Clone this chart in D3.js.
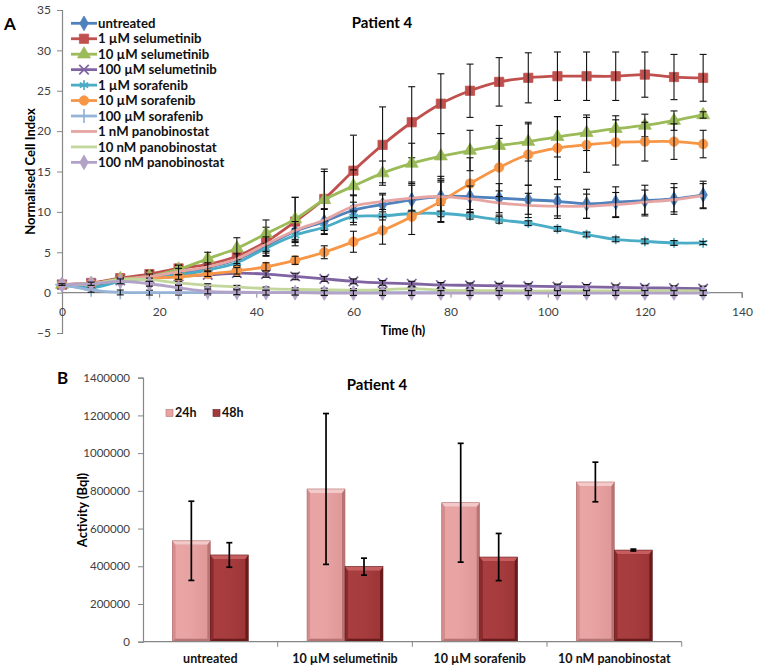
<!DOCTYPE html>
<html><head><meta charset="utf-8">
<script src="https://cdn.jsdelivr.net/npm/d3@7"></script>
<style>body{margin:0;background:#fff}svg{display:block;font-family:Lato,"Open Sans",sans-serif}</style>
</head><body><svg id="c" width="758" height="672"></svg>
<script>
// ---------- Panel A data ----------
const hours = [0,6,12,18,24,30,36,42,48,54,60,66,72,78,84,90,96,102,108,114,120,126,132];
const seriesNames = ["untreated","1 µM selumetinib","10 µM selumetinib","100 µM selumetinib","1 µM sorafenib","10 µM sorafenib","100 µM sorafenib","1 nM panobinostat","10 nM panobinostat","100 nM panobinostat"];
const untreated     = [1.0,0.8,1.5,1.9,2.4,3.1,4.1,5.8,7.6,8.8,10.2,10.9,11.5,11.9,11.9,11.7,11.5,11.3,11.0,11.2,11.4,11.6,12.1];
const selu1         = [1.0,1.2,1.8,2.3,3.0,3.5,4.5,6.3,8.8,11.6,15.1,18.3,21.1,23.4,25.0,26.1,26.6,26.8,26.8,26.8,27.0,26.7,26.6];
const selu10        = [1.0,1.1,1.7,2.0,2.9,4.2,5.5,7.3,9.1,11.5,13.2,14.8,16.0,16.9,17.6,18.2,18.7,19.3,19.8,20.3,20.7,21.3,22.0];
const selu100       = [1.0,1.1,1.5,1.8,2.0,2.2,2.4,2.3,2.0,1.7,1.4,1.2,1.1,0.95,0.9,0.85,0.8,0.75,0.7,0.65,0.6,0.55,0.5];
const sora1         = [1.0,0.6,1.4,1.8,2.2,2.8,3.7,5.5,7.1,8.1,9.4,9.5,9.8,9.8,9.5,9.0,8.6,7.9,7.2,6.6,6.35,6.15,6.15];
const sora10        = [1.0,1.1,1.6,1.8,1.95,2.3,2.7,3.2,4.0,5.0,6.3,7.7,9.4,11.3,13.5,15.5,17.1,17.9,18.3,18.6,18.7,18.7,18.4];
const sora100       = [1.0,0.35,0.02,0.0,0.0,0.0,0.0,0.0,0.0,0.0,0.0,0.0,0.0,0.0,0.0,0.0,0.0,0.0,0.0,0.0,0.0,0.0,0.0];
const pano1         = [1.0,1.1,1.6,2.0,2.6,3.2,4.2,6.0,7.7,9.0,10.7,11.3,11.7,11.9,11.6,11.1,10.8,10.7,10.7,10.9,11.2,11.5,12.0];
const pano10        = [1.0,1.1,1.6,1.6,1.2,0.9,0.7,0.5,0.4,0.35,0.3,0.35,0.5,0.3,0.25,0.25,0.2,0.2,0.2,0.2,0.2,0.2,0.2];
const pano100       = [1.0,1.1,1.4,1.1,0.6,0.15,0.05,0.0,0.0,-0.05,-0.05,-0.05,-0.05,-0.05,-0.05,-0.05,-0.05,-0.05,-0.05,-0.05,-0.05,-0.05,-0.05];

const untreatedErr  = [0.1,0.3,0.3,0.4,0.5,0.6,0.8,1.2,1.4,1.6,1.8,1.2,2.2,2.5,2.0,1.8,1.8,1.8,1.8,1.9,1.9,1.9,1.7];
const selu1Err      = [0.1,0.2,0.3,0.4,0.4,0.6,1.2,1.8,3.0,3.7,4.4,4.7,4.4,3.7,3.3,3.0,3.1,3.0,3.0,3.0,2.8,2.8,2.9];
const selu10Err     = [0.1,0.2,0.3,0.3,0.5,0.8,1.3,1.7,2.7,3.5,2.0,1.5,2.5,2.8,2.5,2.5,2.4,2.5,2.2,1.6,1.4,1.2,0.4];
const selu100Err    = [0.1,0.2,0.3,0.3,0.3,0.3,0.4,0.4,0.4,0.3,0.3,0.3,0.3,0.3,0.3,0.3,0.3,0.3,0.3,0.3,0.3,0.3,0.3];
const sora1Err      = [0.1,0.2,0.2,0.3,0.3,0.3,0.4,0.6,0.8,0.8,0.7,0.5,0.4,1.0,0.4,0.4,0.3,0.3,0.3,0.3,0.3,0.3,0.2];
const sora10Err     = [0.1,0.2,0.2,0.3,0.3,0.3,0.4,0.5,0.5,0.8,1.3,1.7,2.2,2.6,3.2,3.6,3.8,3.9,3.4,2.8,2.4,2.2,1.7];
const sora100Err    = [0.1,0.3,0.3,0.3,0.3,0.3,0.3,0.3,0.3,0.3,0.3,0.3,0.3,0.3,0.3,0.3,0.3,0.3,0.3,0.3,0.3,0.3,0.3];
const pano1Err      = [0.1,0.2,0.3,0.3,0.4,0.5,0.6,0.9,1.1,1.3,1.4,1.0,1.6,1.8,1.6,1.5,1.5,1.5,1.5,1.5,1.5,1.5,1.5];
const pano10Err     = [0.1,0.2,0.2,0.2,0.2,0.2,0.2,0.2,0.2,0.2,0.2,0.2,0.2,0.2,0.2,0.2,0.2,0.2,0.2,0.2,0.2,0.2,0.2];
const pano100Err    = [0.1,0.2,0.3,0.3,0.3,0.3,0.3,0.3,0.3,0.3,0.3,0.3,0.3,0.3,0.3,0.3,0.3,0.3,0.3,0.3,0.3,0.3,0.3];
const xTicksA = [0,20,40,60,80,100,120,140];
const yTicksA = [-5,0,5,10,15,20,25,30,35];

// ---------- Panel B data ----------
const barCategories = ["untreated","10 µM selumetinib","10 µM sorafenib","10 nM panobinostat"];
const barSeries = ["24h","48h"];
const activity24h = [535000,810000,737000,847000];
const activity48h = [460000,398000,449000,486000];
const err24h = [210000,400000,315000,105000];
const err48h = [65000,45000,125000,5000];
const yTicksB = [0,200000,400000,600000,800000,1000000,1200000,1400000];

// ---------- styles ----------
const styles = [
 {c:"#4F81BD", m:"diamond"},
 {c:"#C0504D", m:"square"},
 {c:"#9BBB59", m:"triangle"},
 {c:"#8064A2", m:"x"},
 {c:"#4BACC6", m:"star"},
 {c:"#F79646", m:"circle"},
 {c:"#95B3D7", m:"plus"},
 {c:"#E6A5A3", m:null},
 {c:"#C3D69B", m:null},
 {c:"#B3A2C7", m:"diamond"}
];
const values = [untreated,selu1,selu10,selu100,sora1,sora10,sora100,pano1,pano10,pano100];
const errs = [untreatedErr,selu1Err,selu10Err,selu100Err,sora1Err,sora10Err,sora100Err,pano1Err,pano10Err,pano100Err];

const svg = d3.select("#c");
const axisGray = "#868686", tickText = "#404040";

// ================= Panel A =================
const xA = d3.scaleLinear().domain([0,140]).range([62,742]);
const yA = d3.scaleLinear().domain([-5,35]).range([333,10]);

const gyA = svg.append("g").attr("transform","translate(62,0)")
  .call(d3.axisLeft(yA).tickValues(yTicksA).tickSize(5).tickPadding(6).tickFormat(d3.format("d")));
const gxA = svg.append("g").attr("transform",`translate(0,${yA(0)})`)
  .call(d3.axisBottom(xA).tickValues(xTicksA).tickSize(5).tickPadding(10).tickFormat(d3.format("d")));
[gyA,gxA].forEach(g=>{
  g.select(".domain").attr("stroke",axisGray).attr("stroke-width",1.2);
  g.selectAll(".tick line").attr("stroke",axisGray);
  g.selectAll(".tick text").attr("fill",tickText).style("font-size","12px").style("font-family","Lato");
});
gxA.select(".domain").attr("d",`M${xA(0)},0H${xA(140)}V5`);

function markerPath(type){
  const map = {diamond:[d3.symbolDiamond,62], square:[d3.symbolSquare,85], triangle:[d3.symbolTriangle,72],
    x:[d3.symbolTimes,60], star:[d3.symbolAsterisk,66], circle:[d3.symbolCircle,70], plus:[d3.symbolPlus,64]};
  const [s,sz] = map[type];
  return d3.symbol(s,sz)();
}
const strokeMarkers = new Set(["x","star","plus"]);

const line = d3.line().curve(d3.curveCatmullRom.alpha(0.5)).x((d,i)=>xA(hours[i])).y(d=>yA(d));

values.forEach((vals,si)=>{
  const st = styles[si];
  const g = svg.append("g");
  g.append("path").attr("d",line(vals)).attr("fill","none").attr("stroke",st.c).attr("stroke-width",2.8);
  if(st.m){
    g.selectAll("path.mk").data(vals).join("path").attr("class","mk")
      .attr("d",markerPath(st.m))
      .attr("transform",(d,i)=>`translate(${xA(hours[i])},${yA(d)})`)
      .attr("fill",strokeMarkers.has(st.m)?"none":st.c)
      .attr("stroke",st.c).attr("stroke-width",strokeMarkers.has(st.m)?1.7:0.8);
  }
  const e = errs[si];
  const eb = g.selectAll("g.eb").data(vals).join("g").attr("class","eb");
  eb.append("line").attr("x1",(d,i)=>xA(hours[i])).attr("x2",(d,i)=>xA(hours[i]))
    .attr("y1",(d,i)=>yA(d+e[i])).attr("y2",(d,i)=>yA(d-e[i]));
  eb.append("line").attr("x1",(d,i)=>xA(hours[i])-3.5).attr("x2",(d,i)=>xA(hours[i])+3.5)
    .attr("y1",(d,i)=>yA(d+e[i])).attr("y2",(d,i)=>yA(d+e[i]));
  eb.append("line").attr("x1",(d,i)=>xA(hours[i])-3.5).attr("x2",(d,i)=>xA(hours[i])+3.5)
    .attr("y1",(d,i)=>yA(d-e[i])).attr("y2",(d,i)=>yA(d-e[i]));
  eb.selectAll("line").attr("stroke","#111").attr("stroke-width",1.1);
});

// legend A
const legA = svg.append("g");
seriesNames.forEach((n,i)=>{
  const y = 23.3 + i*15.45, st = styles[i];
  legA.append("line").attr("x1",71).attr("x2",97).attr("y1",y).attr("y2",y).attr("stroke",st.c).attr("stroke-width",2.8);
  if(st.m) legA.append("path").attr("d",markerPath(st.m)).attr("transform",`translate(84,${y})`)
    .attr("fill",strokeMarkers.has(st.m)?"none":st.c).attr("stroke",st.c).attr("stroke-width",strokeMarkers.has(st.m)?1.7:0.8);
  legA.append("text").attr("x",98).attr("y",y+4.6).text(n).attr("font-weight","bold").attr("font-size","13.2px").attr("fill","#111");
});

svg.append("text").attr("x",382).attr("y",28).attr("text-anchor","middle").attr("font-weight","bold").attr("font-size","15px").text("Patient 4");
svg.append("text").attr("x",403).attr("y",335).attr("text-anchor","middle").attr("font-weight","bold").attr("font-size","12.5px").text("Time (h)");
svg.append("text").attr("transform","translate(35,171.5) rotate(-90)").attr("text-anchor","middle").attr("font-weight","bold").attr("font-size","13px").text("Normalised Cell Index");
svg.append("text").attr("x",4).attr("y",30).attr("font-weight","bold").attr("font-size","17px").text("A");

// ================= Panel B =================
const yB = d3.scaleLinear().domain([0,1400000]).range([641.7,377.7]);
const xB = d3.scaleBand().domain(barCategories).range([143,681.7]).paddingInner(0.436).paddingOuter(0.218);
const xInner = d3.scaleBand().domain(barSeries).range([0,xB.bandwidth()]);

const defs = svg.append("defs");
function grad(id, stops){
  const g = defs.append("linearGradient").attr("id",id).attr("x1","0").attr("x2","1").attr("y1","0").attr("y2","0");
  stops.forEach(([o,c])=>g.append("stop").attr("offset",o).attr("stop-color",c));
}
grad("g24",[[0,"#E9A5A5"],[0.5,"#E8A2A2"],[1,"#E09898"]]);
grad("g48",[[0,"#A83E3F"],[0.5,"#A63C3D"],[1,"#9D3637"]]);
const barFill = {"24h":"url(#g24)","48h":"url(#g48)"};
const edgeFill = {"24h":"#B77474","48h":"#6A1C1D"};
const bevel = {"24h":"#F4C9C9","48h":"#C65E5F"};
const sideL = {"24h":"#D48C8C","48h":"#8A2A2B"};
const legendFill = {"24h":"#E8A3A3","48h":"#A33B3C"};

const gyB = svg.append("g").attr("transform","translate(143,0)")
  .call(d3.axisLeft(yB).tickValues(yTicksB).tickSize(5).tickPadding(8).tickFormat(d3.format("d")));
gyB.select(".domain").attr("stroke",axisGray).attr("stroke-width",1.2);
gyB.selectAll(".tick line").attr("stroke",axisGray);
gyB.selectAll(".tick text").attr("fill",tickText).style("font-size","11.5px").style("font-family","Lato");

const barData = [];
barCategories.forEach((c,i)=>{
  barData.push({c, s:"24h", v:activity24h[i], e:err24h[i]});
  barData.push({c, s:"48h", v:activity48h[i], e:err48h[i]});
});
const bars = svg.append("g").selectAll("g").data(barData).join("g")
  .attr("transform",d=>`translate(${xB(d.c)+xInner(d.s)},0)`);
const bw = xInner.bandwidth();
const ins = 3;
// outer (edge) rect
bars.append("rect").attr("x",0).attr("width",bw).attr("y",d=>yB(d.v)).attr("height",d=>yB(0)-yB(d.v))
  .attr("fill",d=>edgeFill[d.s]);
// left bevel
bars.append("path").attr("d",d=>{const t=yB(d.v),b=yB(0);return `M0,${t}L${ins},${t+ins+1}V${b-ins}L0,${b}Z`;}).attr("fill",d=>sideL[d.s]);
// face
bars.append("rect").attr("x",ins).attr("width",bw-2*ins).attr("y",d=>yB(d.v)+ins+1).attr("height",d=>Math.max(0,yB(0)-yB(d.v)-2*ins-1))
  .attr("fill",d=>barFill[d.s]);
// top bevel
bars.append("path").attr("d",d=>{const t=yB(d.v);return `M0,${t}H${bw}L${bw-ins},${t+ins+1}H${ins}Z`;}).attr("fill",d=>bevel[d.s]);
bars.append("rect").attr("x",0).attr("width",bw).attr("y",d=>yB(d.v)).attr("height",d=>yB(0)-yB(d.v))
  .attr("fill","none").attr("stroke",d=>edgeFill[d.s]).attr("stroke-width",0.6);
// error bars
bars.append("line").attr("x1",bw/2).attr("x2",bw/2).attr("y1",d=>yB(d.v+d.e)).attr("y2",d=>yB(d.v-d.e));
bars.append("line").attr("x1",bw/2-3).attr("x2",bw/2+3).attr("y1",d=>yB(d.v+d.e)).attr("y2",d=>yB(d.v+d.e));
bars.append("line").attr("x1",bw/2-3).attr("x2",bw/2+3).attr("y1",d=>yB(d.v-d.e)).attr("y2",d=>yB(d.v-d.e));
bars.selectAll("line").attr("stroke","#000").attr("stroke-width",1.7);

// x axis B
const gxB = svg.append("g");
gxB.append("line").attr("x1",143).attr("x2",681.7).attr("y1",yB(0)).attr("y2",yB(0)).attr("stroke",axisGray).attr("stroke-width",1.2);
barCategories.forEach((c,i)=>{
  const bx = xB(c) - xB.step()*xB.paddingInner()/2 + xB.step();
  gxB.append("line").attr("x1",bx).attr("x2",bx).attr("y1",yB(0)).attr("y2",yB(0)+5).attr("stroke",axisGray);
  gxB.append("text").attr("x",xB(c)+xB.bandwidth()/2).attr("y",663).attr("text-anchor","middle")
    .attr("font-weight","bold").attr("font-size","12.5px").attr("fill","#111").text(c);
});

// legend B
barSeries.forEach((s,i)=>{
  const lx = [166,213][i];
  svg.append("rect").attr("x",lx).attr("y",409.5).attr("width",7).attr("height",7).attr("fill",legendFill[s]).attr("stroke",edgeFill[s]).attr("stroke-width",0.6);
  svg.append("text").attr("x",lx+9).attr("y",416.5).attr("font-weight","bold").attr("font-size","12.5px").attr("fill","#111").text(s);
});

svg.append("text").attr("x",377).attr("y",390).attr("text-anchor","middle").attr("font-weight","bold").attr("font-size","15px").text("Patient 4");
svg.append("text").attr("transform","translate(87,510) rotate(-90)").attr("text-anchor","middle").attr("font-weight","bold").attr("font-size","13px").text("Activity (Bql)");
svg.append("text").attr("x",57).attr("y",384).attr("font-weight","bold").attr("font-size","17px").text("B");
</script></body></html>
